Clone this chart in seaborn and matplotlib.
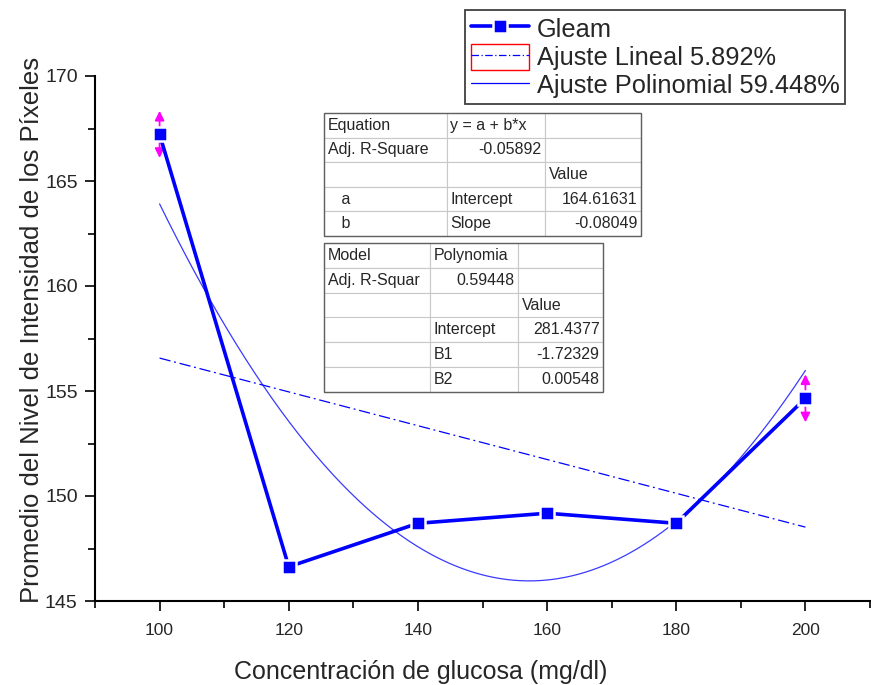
import numpy as np
import pandas as pd
import matplotlib
matplotlib.use("Agg")
import matplotlib.pyplot as plt
from matplotlib.lines import Line2D
from matplotlib.patches import Rectangle
from matplotlib.legend_handler import HandlerTuple
import seaborn as sns

# Measured data
conc = [100, 120, 140, 160, 180, 200]
gleam = [167.22, 146.63, 148.70, 149.18, 148.70, 154.65]
gleam_err = [1.12, 0.0, 0.0, 0.0, 0.0, 1.14]

# Fit results
lin_a, lin_b = 164.61631, -0.08049
lin_adj_r2 = -0.05892
poly_c0, poly_b1, poly_b2 = 281.4377, -1.72329, 0.00548
poly_adj_r2 = 0.59448

xticks = [100, 120, 140, 160, 180, 200]
yticks = [145, 150, 155, 160, 165, 170]

sns.set_theme(style="ticks")
plt.rcParams["font.family"] = ["Liberation Sans", "DejaVu Sans"]

BLUE = "#0000FF"
MAGENTA = "#FF00FF"

fig = plt.figure(figsize=(8.71, 6.85), dpi=100)
W, H = 871, 685
ax = fig.add_axes([95 / W, 1 - 601 / H, (870 - 95) / W, (601 - 76) / H])

df = pd.DataFrame({"conc": conc, "gleam": gleam})

# Fitted curves
xf = np.linspace(min(conc), max(conc), 300)
y_lin = lin_a + lin_b * xf
y_poly = poly_c0 + poly_b1 * xf + poly_b2 * xf ** 2
ax.plot(xf, y_poly, color="#3a3aff", lw=0.9, zorder=2)
ax.plot(xf, y_lin, color=BLUE, lw=0.9, dashes=(9, 3, 1.5, 3), zorder=2)

# Error arrows
for x, y, e in zip(conc, gleam, gleam_err):
    if e > 0:
        ax.annotate("", xy=(x, y + e), xytext=(x, y - e),
                    arrowprops=dict(arrowstyle="<|-|>", color=MAGENTA, lw=1.3,
                                    mutation_scale=14, shrinkA=0, shrinkB=0),
                    zorder=3)

# Main series (white marker edge leaves a small gap where the line meets it)
MK = dict(marker="s", markersize=10.5, markerfacecolor=BLUE,
          markeredgecolor="white", markeredgewidth=1.8)
sns.lineplot(data=df, x="conc", y="gleam", ax=ax, color=BLUE, lw=2.6,
             zorder=4, **MK)

ax.set_xlim(90, 210)
ax.set_ylim(145, 170)
ax.set_xticks(xticks)
ax.set_xticks(np.arange(90, 211, 10), minor=True)
ax.set_yticks(yticks)
ax.set_yticks(np.arange(145, 170.1, 2.5), minor=True)
ax.set_yticklabels([str(t) for t in yticks], fontsize=14)
ax.set_xticklabels([str(t) for t in xticks], fontsize=12.5)
ax.tick_params(axis="both", which="major", direction="out", length=7.5, width=1.2,
               color="black")
ax.tick_params(axis="both", which="minor", direction="out", length=5, width=1.2,
               color="black")
ax.tick_params(axis="x", which="major", pad=8)
ax.tick_params(axis="y", which="major", pad=5)
for s in ["top", "right"]:
    ax.spines[s].set_visible(False)
for s in ["left", "bottom"]:
    ax.spines[s].set_color("black")
    ax.spines[s].set_linewidth(1.5)

ax.set_xlabel("Concentración de glucosa (mg/dl)", fontsize=18)
ax.set_ylabel("Promedio del Nivel de Intensidad de los Píxeles", fontsize=18.5)
ax.xaxis.set_label_coords((421 - 95) / 775, (601 - 660) / 525)
ax.yaxis.set_label_coords((44 - 95) / 775, (601 - 330) / 525)

# Legend
h_gleam = Line2D([], [], color=BLUE, lw=2.6, **MK)
h_box = Rectangle((0, 0), 1, 1, facecolor="white", edgecolor="red", lw=1.0)
h_lin = Line2D([], [], color=BLUE, lw=0.9, dashes=(6, 2, 1, 2))
h_poly = Line2D([], [], color=BLUE, lw=0.9)
leg = fig.legend(
    [h_gleam, (h_box, h_lin), h_poly],
    ["Gleam",
     f"Ajuste Lineal {abs(lin_adj_r2) * 100:.3f}%",
     f"Ajuste Polinomial {poly_adj_r2 * 100:.3f}%"],
    handler_map={tuple: HandlerTuple(ndivide=1, pad=0)},
    loc="upper left", bbox_to_anchor=(465 / W, 1 - 10 / H),
    bbox_transform=fig.transFigure, fontsize=18.3, frameon=True, fancybox=False,
    edgecolor="#404040", framealpha=1, handlelength=2.3, handleheight=1.2,
    handletextpad=0.3, labelspacing=0.06, borderpad=0.22, borderaxespad=0,
    numpoints=1,
)
leg.get_frame().set_linewidth(1.3)


def add_table(rows, x0, y0, x1, y1, col_px, aligns):
    bx = (x0 - 95) / 775
    by = (601 - y1) / 525
    bw = (x1 - x0) / 775
    bh = (y1 - y0) / 525
    total = sum(col_px)
    tbl = ax.table(cellText=rows, bbox=[bx, by, bw, bh],
                   colWidths=[c / total for c in col_px], zorder=5)
    tbl.auto_set_font_size(False)
    tbl.set_fontsize(11.5)
    for (r, c), cell in tbl.get_celld().items():
        cell.set_edgecolor("#c8c8c8")
        cell.set_linewidth(0.8)
        cell.set_facecolor("white")
        cell._loc = aligns[r][c]
        cell.get_text().set_horizontalalignment(aligns[r][c])
        cell.PAD = 3.5 / col_px[c]
    ax.add_patch(Rectangle((bx, by), bw, bh, transform=ax.transAxes, fill=False,
                           edgecolor="#606060", lw=1.0, zorder=6))
    return tbl


lin_rows = [
    ["Equation", "y = a + b*x", ""],
    ["Adj. R-Square", f"{lin_adj_r2:.5f}", ""],
    ["", "", "Value"],
    ["   a", "Intercept", f"{lin_a:.5f}"],
    ["   b", "Slope", f"{lin_b:.5f}"],
]
lin_align = [
    ["left", "left", "left"],
    ["left", "right", "left"],
    ["left", "left", "left"],
    ["left", "left", "right"],
    ["left", "left", "right"],
]
add_table(lin_rows, 324, 113, 641, 236, [123, 98, 96], lin_align)

poly_rows = [
    ["Model", "Polynomia", ""],
    ["Adj. R-Squar", f"{poly_adj_r2:.5f}", ""],
    ["", "", "Value"],
    ["", "Intercept", f"{poly_c0:.4f}"],
    ["", "B1", f"{poly_b1:.5f}"],
    ["", "B2", f"{poly_b2:.5f}"],
]
poly_align = [
    ["left", "left", "left"],
    ["left", "right", "left"],
    ["left", "left", "left"],
    ["left", "left", "right"],
    ["left", "left", "right"],
    ["left", "left", "right"],
]
add_table(poly_rows, 324, 243, 603, 392, [106, 88, 85], poly_align)

fig.savefig("out.png", dpi=100, facecolor="white")
